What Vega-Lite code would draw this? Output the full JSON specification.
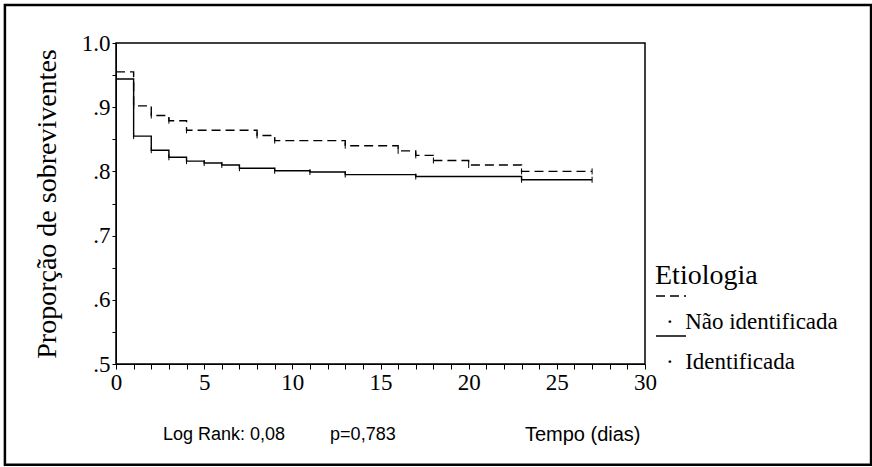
{
  "$schema": "https://vega.github.io/schema/vega-lite/v6.json",
  "width": 529,
  "height": 321,
  "autosize": {"type": "none"},
  "padding": {"left": 116, "top": 43, "right": 227, "bottom": 103},
  "background": "white",
  "config": {
    "view": {"stroke": "black", "strokeWidth": 1.5},
    "font": "Liberation Serif"
  },
  "title": {
    "text": "Log Rank: 0,08\u00a0\u00a0\u00a0\u00a0\u00a0\u00a0\u00a0\u00a0\u00a0p=0,783",
    "orient": "bottom",
    "anchor": "start",
    "frame": "group",
    "dx": 47,
    "offset": -40,
    "font": "Liberation Sans",
    "fontSize": 18,
    "fontWeight": "normal",
    "color": "black"
  },
  "datasets": {
    "km": [
      {"g": "Não identificada", "t": 0, "s": 0.955},
      {"g": "Não identificada", "t": 1, "s": 0.902},
      {"g": "Não identificada", "t": 2, "s": 0.887},
      {"g": "Não identificada", "t": 3, "s": 0.879},
      {"g": "Não identificada", "t": 4, "s": 0.864},
      {"g": "Não identificada", "t": 8, "s": 0.856},
      {"g": "Não identificada", "t": 9, "s": 0.848},
      {"g": "Não identificada", "t": 13, "s": 0.840},
      {"g": "Não identificada", "t": 16, "s": 0.832},
      {"g": "Não identificada", "t": 17, "s": 0.825},
      {"g": "Não identificada", "t": 18, "s": 0.817},
      {"g": "Não identificada", "t": 20, "s": 0.810},
      {"g": "Não identificada", "t": 23, "s": 0.800},
      {"g": "Não identificada", "t": 27, "s": 0.800},
      {"g": "Identificada", "t": 0, "s": 0.944},
      {"g": "Identificada", "t": 1, "s": 0.855},
      {"g": "Identificada", "t": 2, "s": 0.833},
      {"g": "Identificada", "t": 3, "s": 0.822},
      {"g": "Identificada", "t": 4, "s": 0.816},
      {"g": "Identificada", "t": 5, "s": 0.813},
      {"g": "Identificada", "t": 6, "s": 0.810},
      {"g": "Identificada", "t": 7, "s": 0.805},
      {"g": "Identificada", "t": 9, "s": 0.801},
      {"g": "Identificada", "t": 11, "s": 0.799},
      {"g": "Identificada", "t": 13, "s": 0.795},
      {"g": "Identificada", "t": 17, "s": 0.792},
      {"g": "Identificada", "t": 23, "s": 0.787},
      {"g": "Identificada", "t": 27, "s": 0.787}
    ]
  },
  "layer": [
    {
      "data": {"name": "km"},
      "mark": {"type": "line", "interpolate": "step-after", "color": "black", "strokeWidth": 1.4},
      "encoding": {
        "x": {
          "field": "t", "type": "quantitative",
          "scale": {"domain": [0, 30], "nice": false, "zero": false},
          "axis": {
            "tickCount": 30,
            "labelExpr": "datum.value % 5 == 0 ? format(datum.value, 'd') : ''",
            "labelOverlap": false,
            "labelFlush": false,
            "labelBound": false,
            "tickSize": 5,
            "tickColor": "black",
            "domainColor": "black",
            "grid": false,
            "labelFont": "Liberation Serif",
            "labelFontSize": 23,
            "labelColor": "black",
            "labelPadding": 2,
            "title": "Tempo (dias)",
            "titleFont": "Liberation Sans",
            "titleFontSize": 20,
            "titleFontWeight": "normal",
            "titleColor": "black",
            "titleX": 524,
            "titleAlign": "right",
            "titlePadding": 30
          }
        },
        "y": {
          "field": "s", "type": "quantitative",
          "scale": {"domain": [0.5, 1], "nice": false, "zero": false},
          "axis": {
            "tickCount": 10,
            "labelExpr": "datum.value == 1 ? '1.0' : (abs(datum.value*10 - round(datum.value*10)) < 0.01 ? replace(format(datum.value, '.1f'), '0.', '.') : '')",
            "labelOverlap": false,
            "labelFlush": false,
            "labelBound": false,
            "tickSize": 4,
            "tickColor": "black",
            "domainColor": "black",
            "grid": false,
            "labelFont": "Liberation Serif",
            "labelFontSize": 23,
            "labelColor": "black",
            "labelPadding": 2,
            "title": "Proporção de sobreviventes",
            "titleFont": "Liberation Serif",
            "titleFontSize": 28,
            "titleFontWeight": "normal",
            "titleColor": "black",
            "titlePadding": 20
          }
        },
        "strokeDash": {
          "field": "g", "type": "nominal",
          "scale": {"domain": ["Não identificada", "Identificada"], "range": [[9, 5], [1, 0]]},
          "legend": {
            "title": "Etiologia",
            "orient": "none",
            "legendX": 539,
            "legendY": 219,
            "titleFont": "Liberation Serif",
            "titleFontSize": 28,
            "titleFontWeight": "normal",
            "titleColor": "black",
            "titlePadding": 18,
            "labelFont": "Liberation Serif",
            "labelFontSize": 23,
            "labelColor": "black",
            "labelLimit": 400,
            "labelExpr": "'·\u00a0\u00a0' + datum.label",
            "symbolType": "M-1,-2L1.31,-2",
            "symbolSize": 676,
            "symbolStrokeColor": "black",
            "symbolStrokeWidth": 1.4,
            "labelOffset": -17,
            "rowPadding": -1
          }
        }
      }
    },
    {
      "data": {"name": "km"},
      "transform": [{"filter": "datum.t > 0"}],
      "mark": {"type": "point", "shape": "M0,-1L0,1", "size": 36, "stroke": "black", "strokeWidth": 1, "filled": false, "opacity": 1},
      "encoding": {
        "x": {"field": "t", "type": "quantitative", "scale": {"domain": [0, 30], "nice": false, "zero": false}},
        "y": {"field": "s", "type": "quantitative", "scale": {"domain": [0.5, 1], "nice": false, "zero": false}}
      }
    },
    {
      "data": {"values": [{"frame": 1}]},
      "mark": {"type": "rect", "fill": "transparent", "stroke": "black", "strokeWidth": 2.5, "clip": false},
      "encoding": {
        "x": {"datum": -6.3, "type": "quantitative", "scale": {"domain": [0, 30], "nice": false, "zero": false}},
        "x2": {"datum": 42.82},
        "y": {"datum": 1.059, "type": "quantitative", "scale": {"domain": [0.5, 1], "nice": false, "zero": false}},
        "y2": {"datum": 0.343}
      }
    }
  ]
}
